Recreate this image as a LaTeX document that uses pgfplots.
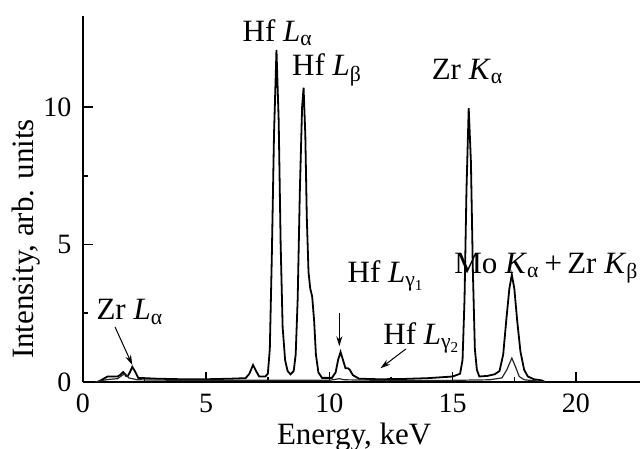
\documentclass[border=0pt]{standalone}
\usepackage{fontspec}
\setmainfont{Liberation Serif}
\usepackage{pgfplots}
\pgfplotsset{compat=1.18}
\usetikzlibrary{arrows.meta}

\begin{document}
\fontsize{15.5}{18}\selectfont
\begin{tikzpicture}
\begin{axis}[
    at={(0,0)}, anchor=origin,
    scale only axis, width=278.5pt, height=182.9pt,
    xmin=0, xmax=22.6, ymin=0, ymax=13.3,
    axis lines*=left,
    axis line style={-, line width=1pt},
    tick align=inside,
    major tick length=5pt, minor tick length=2.5pt,
    tick style={line width=0.8pt, black},
    xtick={0,5,10,15,20}, ytick={0,5,10},
    minor tick num=1,
    /pgf/number format/assume math mode=true,
    tick label style={font=\fontsize{14}{16}\selectfont},
    yticklabel style={xshift=-0.5pt},
    xticklabel style={yshift=-0.5pt},
    clip=false,
]
% main spectrum
\addplot[black, line width=0.9pt] coordinates {
    (0.6,0.0) (0.8,0.1) (1.0,0.2) (1.4,0.2) (1.5,0.25) (1.63,0.36) (1.75,0.22)
    (1.82,0.22) (1.9,0.35) (2.0,0.55) (2.1,0.4) (2.24,0.15) (3.0,0.12)
    (4.0,0.1) (5.0,0.1) (6.0,0.12) (6.6,0.14) (6.75,0.3) (6.9,0.62) (7.02,0.4)
    (7.15,0.2) (7.4,0.2) (7.5,0.3) (7.58,1.2) (7.66,4.5) (7.75,9.0) (7.85,12.07)
    (7.94,9.5) (8.02,5.0) (8.1,2.0) (8.2,0.8) (8.3,0.4) (8.42,0.28) (8.55,0.4)
    (8.63,1.0) (8.71,3.0) (8.8,7.0) (8.89,10.0) (8.95,10.7) (9.02,9.0) (9.08,6.0)
    (9.15,4.0) (9.22,3.4) (9.3,3.1) (9.38,2.2) (9.45,1.0) (9.55,0.35) (9.7,0.15)
    (10.1,0.15) (10.25,0.35) (10.35,0.8) (10.45,1.09) (10.55,0.8) (10.65,0.5)
    (10.75,0.5) (10.82,0.45) (10.95,0.25) (11.2,0.12) (12.0,0.1) (13.0,0.11)
    (14.0,0.14) (15.0,0.2) (15.3,0.3) (15.4,0.8) (15.48,3.0) (15.56,7.0)
    (15.65,9.96) (15.74,8.0) (15.82,4.0) (15.9,1.2) (15.98,0.45) (16.08,0.2)
    (16.4,0.22) (16.7,0.28) (16.9,0.4) (17.05,1.0) (17.18,2.3) (17.3,3.4)
    (17.4,3.9) (17.5,3.4) (17.62,2.2) (17.75,1.1) (17.9,0.44) (18.05,0.2)
    (18.3,0.1) (18.6,0.06) (18.75,0.0)
};
% second spectrum
\addplot[black!85, line width=0.6pt] coordinates {
    (0.5,0.0) (0.8,0.06) (1.1,0.1) (1.4,0.12) (1.6,0.25) (1.72,0.3)
    (1.85,0.15) (2.2,0.08) (4.0,0.06) (7.0,0.06) (10.0,0.06) (10.4,0.12)
    (10.6,0.08) (13.0,0.05) (15.0,0.06) (16.5,0.08) (17.0,0.15) (17.2,0.45)
    (17.4,0.87) (17.55,0.55) (17.7,0.2) (17.9,0.08) (18.4,0.04) (18.75,0.0)
};
% labels
\node at (axis cs:11.0,-2.0) {Energy, keV};
\node[rotate=90] at (axis cs:-2.3,5.2) {Intensity, arb. units};
% peak annotations
\node at (axis cs:7.9,12.7) {Hf \textit{L}\textsubscript{α}};
\node at (axis cs:9.9,11.35) {Hf \textit{L}\textsubscript{β}};
\node at (axis cs:15.6,11.3) {Zr \textit{K}\textsubscript{α}};
\node at (axis cs:18.8,4.15) {Mo \textit{K}\textsubscript{α}\,+\,Zr \textit{K}\textsubscript{β}};
\node at (axis cs:12.3,3.85) {Hf \textit{L}\textsubscript{γ\textsubscript{1}}};
\node at (axis cs:13.75,1.6) {Hf \textit{L}\textsubscript{γ\textsubscript{2}}};
\node at (axis cs:1.9,2.55) {Zr \textit{L}\textsubscript{α}};
\draw[-{Stealth[length=5pt,width=3pt]}, line width=0.5pt]
    (axis cs:1.3,2.0) -- (axis cs:2.0,0.62);
\draw[-{Stealth[length=5pt,width=3pt]}, line width=0.5pt]
    (axis cs:10.4,2.5) -- (axis cs:10.4,1.3);
\draw[-{Stealth[length=5pt,width=3pt]}, line width=0.5pt]
    (axis cs:13.1,1.2) -- (axis cs:12.07,0.5);
\end{axis}
\pgfresetboundingbox
\path[use as bounding box] (-41.5pt,-33.5pt) rectangle (280.5pt,191pt);
\end{tikzpicture}
\end{document}
